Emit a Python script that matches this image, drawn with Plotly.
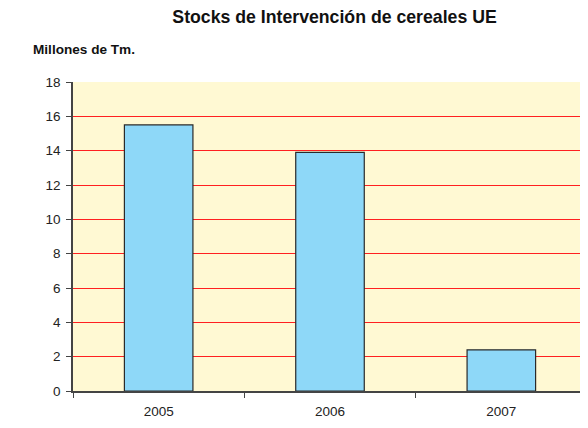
import plotly.graph_objects as go

years = ["2005", "2006", "2007"]
stocks = [15.5, 13.9, 2.4]

fig = go.Figure()
fig.add_trace(go.Bar(
    x=years, y=stocks,
    marker=dict(color="#8ED8F8", line=dict(color="#2A2A2A", width=1.2)),
))

fig.update_layout(
    width=580, height=420,
    margin=dict(l=65, r=1, t=74, b=37),
    paper_bgcolor="white",
    plot_bgcolor="#FFF9D3",
    bargap=0.6,
    showlegend=False,
    font=dict(family="Liberation Sans, Arial, sans-serif", size=13.5, color="#222222"),
    title=dict(text="<b>Stocks de Intervención de cereales UE</b>",
               x=0.563, xanchor="center", xref="container",
               y=0.980, yanchor="middle",
               font=dict(size=17.7, color="#111111")),
    annotations=[dict(text="<b>Millones de Tm.</b>", xref="paper", yref="paper",
                      x=-0.0817, y=1.104, xanchor="left", yanchor="middle",
                      showarrow=False, font=dict(size=13.6, color="#111111"))],
)

fig.update_xaxes(
    type="category", tickson="boundaries", ticks="outside", ticklen=5,
    tickcolor="#444444", showline=True, linecolor="#444444", linewidth=1.5,
    showgrid=False, tickfont=dict(size=13.5), ticklabelstandoff=7,
)
fig.update_yaxes(
    range=[0, 18], dtick=2, ticks="outside", ticklen=5, tickcolor="#444444",
    showline=True, linecolor="#444444", linewidth=1.5,
    gridcolor="#FF2020", gridwidth=1, zeroline=False, tickfont=dict(size=13.5),
    ticklabelstandoff=3,
)

fig.write_html("out.html")
